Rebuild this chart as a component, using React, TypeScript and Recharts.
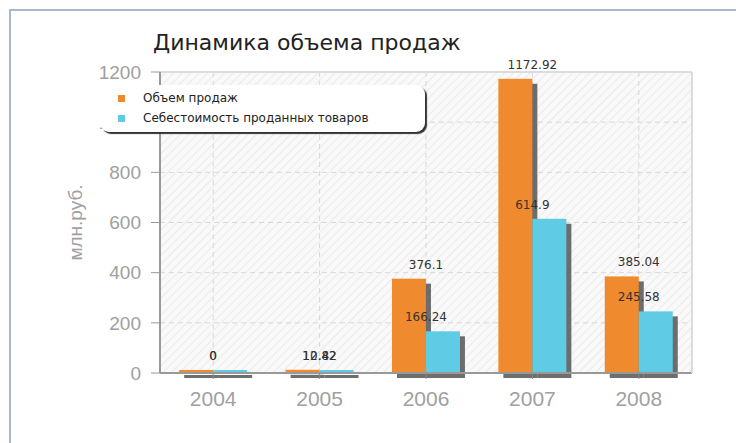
import React from 'react';
import {
  BarChart,
  Bar,
  XAxis,
  YAxis,
  CartesianGrid,
  LabelList,
  ReferenceLine,
} from 'recharts';

const years = ['2004', '2005', '2006', '2007', '2008'];
const sales = [0, 12.82, 376.1, 1172.92, 385.04];
const cost = [0, 10.42, 166.24, 614.9, 245.58];
const yTicks = [0, 200, 400, 600, 800, 1000, 1200];

const seriesNames = ['Объем продаж', 'Себестоимость проданных товаров'];
const seriesColors = ['#f08a2e', '#5fcbe4'];

const chartData = years.map((year, i) => ({
  year,
  sales: sales[i],
  cost: cost[i],
}));

const tickFont = 'Liberation Sans, Arial, sans-serif';
const textFont = 'DejaVu Sans, Verdana, sans-serif';

// bar with a dark drop shadow behind it
function ShadowBar(props: any) {
  const { x, y, width, height, fill } = props;
  if (width == null || height == null) return null;
  return (
    <g>
      <rect x={x + 5} y={y + 5} width={width} height={height} fill="#4a4a4a" opacity={0.8} />
      <rect x={x} y={y} width={width} height={height} fill={fill} />
    </g>
  );
}

// values are centred on the category, not on the bar
function makeValueLabel(side: 'left' | 'right') {
  return (props: any) => {
    const { x, y, width, value } = props;
    const cx = side === 'left' ? x + width : x;
    return (
      <text
        x={cx}
        y={y - 10}
        textAnchor="middle"
        fontFamily={textFont}
        fontSize={12}
        fill="#333"
      >
        {value}
      </text>
    );
  };
}

function LegendBox() {
  return (
    <div
      style={{
        position: 'absolute',
        left: 100,
        top: 85,
        width: 325,
        height: 47,
        background: '#fff',
        borderRadius: 9,
        boxShadow: '2px 2px 1px #333',
        fontFamily: textFont,
        fontSize: 12,
        color: '#222',
        boxSizing: 'border-box',
        paddingLeft: 18,
        paddingTop: 3,
      }}
    >
      {seriesNames.map((name, i) => (
        <div key={name} style={{ display: 'flex', alignItems: 'center', height: 20 }}>
          <span
            style={{
              display: 'inline-block',
              width: 7,
              height: 7,
              background: seriesColors[i],
              marginRight: 18,
            }}
          />
          {name}
        </div>
      ))}
    </div>
  );
}

export default function App() {
  return (
    <div
      style={{
        position: 'absolute',
        left: 0,
        top: 0,
        width: 736,
        height: 443,
        overflow: 'hidden',
        background: '#fff',
      }}
    >
      <div
        style={{
          position: 'absolute',
          left: 9,
          top: 9,
          width: 740,
          height: 450,
          borderTop: '2px solid #a9b8cf',
          borderLeft: '2px solid #a9b8cf',
        }}
      />
      <div
        style={{
          position: 'absolute',
          left: 153,
          top: 30,
          fontFamily: textFont,
          fontSize: 22,
          color: '#222',
          whiteSpace: 'nowrap',
        }}
      >
        Динамика объема продаж
      </div>
      <div style={{ position: 'absolute', left: 0, top: 0 }}>
        <BarChart
          width={736}
          height={443}
          data={chartData}
          margin={{ top: 72, right: 0, bottom: 40, left: 70 }}
          barCategoryGap="18%"
          barGap={0}
        >
          <defs>
            <pattern
              id="hatch"
              width="6"
              height="6"
              patternUnits="userSpaceOnUse"
              patternTransform="rotate(45)"
            >
              <rect width="6" height="6" fill="#f9f9f9" />
              <line x1="0" y1="0" x2="0" y2="6" stroke="#ebebeb" strokeWidth="2" />
            </pattern>
          </defs>
          <CartesianGrid stroke="#d8d8d8" strokeDasharray="5 4" fill="url(#hatch)" />
          <ReferenceLine y={1200} stroke="#dcdcdc" strokeWidth={2} />
          <XAxis
            dataKey="year"
            height={30}
            tick={{ fill: '#a0a0a0', fontSize: 21, fontFamily: tickFont }}
            tickLine={{ stroke: '#888' }}
            tickSize={6}
            tickMargin={12}
            axisLine={{ stroke: '#999', strokeWidth: 2 }}
          />
          <YAxis
            domain={[0, 1200]}
            ticks={yTicks}
            width={90}
            tick={{ fill: '#a0a0a0', fontSize: 19, fontFamily: tickFont }}
            tickLine={{ stroke: '#999' }}
            tickSize={9}
            tickMargin={10}
            axisLine={{ stroke: '#999', strokeWidth: 2 }}
            label={{
              content: (p: any) => {
                const vb = p.viewBox;
                const lx = vb.x + 5;
                const ly = vb.y + vb.height / 2;
                return (
                  <text
                    x={lx}
                    y={ly}
                    transform={`rotate(-90, ${lx}, ${ly})`}
                    textAnchor="middle"
                    dominantBaseline="central"
                    fontFamily={tickFont}
                    fontSize={19}
                    fill="#a0a0a0"
                  >
                    млн.руб.
                  </text>
                );
              },
            }}
          />
          <YAxis
            yAxisId="frame"
            orientation="right"
            width={44}
            tick={false}
            tickLine={false}
            axisLine={{ stroke: '#dcdcdc', strokeWidth: 2 }}
          />
          <Bar
            dataKey="sales"
            name={seriesNames[0]}
            fill={seriesColors[0]}
            shape={<ShadowBar />}
            minPointSize={3}
            isAnimationActive={false}
          >
            <LabelList dataKey="sales" content={makeValueLabel('left')} />
          </Bar>
          <Bar
            dataKey="cost"
            name={seriesNames[1]}
            fill={seriesColors[1]}
            shape={<ShadowBar />}
            minPointSize={3}
            isAnimationActive={false}
          >
            <LabelList dataKey="cost" content={makeValueLabel('right')} />
          </Bar>
        </BarChart>
      </div>
      <LegendBox />
    </div>
  );
}
